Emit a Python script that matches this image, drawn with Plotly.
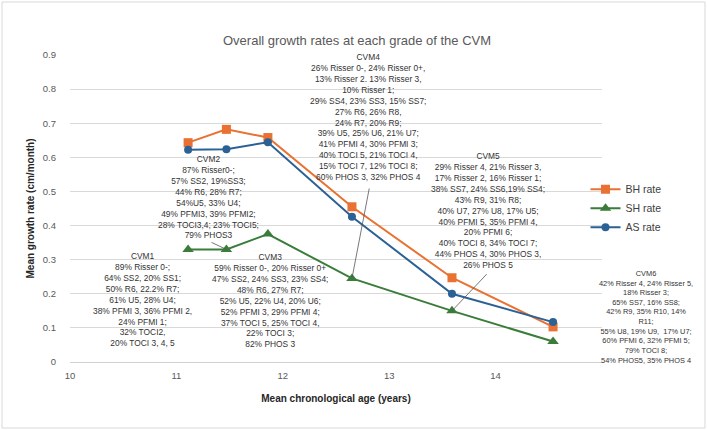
import plotly.graph_objects as go

# ---- data ----
ages = [11.11, 11.47, 11.86, 12.65, 13.59, 14.54]
bh_rate = [0.643, 0.682, 0.658, 0.455, 0.247, 0.103]
sh_rate = [0.330, 0.330, 0.375, 0.245, 0.150, 0.060]
as_rate = [0.622, 0.624, 0.644, 0.426, 0.200, 0.117]
series_names = ["BH rate", "SH rate", "AS rate"]
x_ticks = [10, 11, 12, 13, 14]
y_ticks = [0, 0.1, 0.2, 0.3, 0.4, 0.5, 0.6, 0.7, 0.8, 0.9]

cvm_texts = [
    "CVM1<br>89% Risser 0-;<br>64% SS2, 20% SS1;<br>50% R6, 22.2% R7;<br>61% U5, 28% U4;<br>"
    "38% PFMI 3, 36% PFMI 2,<br>24% PFMI 1;<br>32% TOCI2,<br>20% TOCI 3, 4, 5",
    "CVM2<br>87% Risser0-;<br>57% SS2, 19%SS3;<br>44% R6, 28% R7;<br>54%U5, 33% U4;<br>"
    "49% PFMI3, 39% PFMI2;<br>28% TOCI3,4; 23% TOCI5;<br>79% PHOS3",
    "CVM3<br>59% Risser 0-, 20% Risser 0+<br>47% SS2, 24% SS3, 23% SS4;<br>48% R6, 27% R7;<br>"
    "52% U5, 22% U4, 20% U6;<br>52% PFMI 3, 29% PFMI 4;<br>37% TOCI 5, 25% TOCI 4,<br>22% TOCI 3;<br>82% PHOS 3",
    "CVM4<br>26% Risser 0-, 24% Risser 0+,<br>13% Risser 2. 13% Risser 3,<br>10% Risser 1;<br>"
    "29% SS4, 23% SS3, 15% SS7;<br>27% R6, 26% R8,<br>24% R7, 20% R9;<br>39% U5, 25% U6, 21% U7;<br>"
    "41% PFMI 4, 30% PFMI 3;<br>40% TOCI 5, 21% TOCI 4,<br>15% TOCI 7, 12% TOCI 8;<br>60% PHOS 3, 32% PHOS 4",
    "CVM5<br>29% Risser 4, 21% Risser 3,<br>17% Risser 2, 16% Risser 1;<br>38% SS7, 24% SS6,19% SS4;<br>"
    "43% R9, 31% R8;<br>40% U7, 27% U8, 17% U5;<br>40% PFMI 5, 35% PFMI 4,<br>20% PFMI 6;<br>"
    "40% TOCI 8, 34% TOCI 7;<br>44% PHOS 4, 30% PHOS 3,<br>26% PHOS 5",
    "CVM6<br>42% Risser 4, 24% Risser 5,<br>18% Risser 3;<br>65% SS7, 16% SS8;<br>42% R9, 35% R10, 14%<br>"
    "R11;<br>55% U8, 19% U9,  17% U7;<br>60% PFMI 6, 32% PFMI 5;<br>79% TOCI 8;<br>54% PHOS5, 35% PHOS 4",
]

# ---- styling / placement ----
colors = {"BH rate": "#E97132", "SH rate": "#3A7D3A", "AS rate": "#2B6195"}
symbols = {"BH rate": "square", "SH rate": "triangle-up", "AS rate": "circle"}
msize = {"BH rate": 9, "SH rate": 10, "AS rate": 8}
# (xref, x, y) for each CVM text block
label_pos = [("x", 10.68, 0.1847), ("x", 11.306, 0.4837), ("x", 11.88, 0.1809),
             ("x", 12.80, 0.7168), ("x", 13.93, 0.4427), ("paper", 1.0827, 0.1305)]
label_font = [8.4, 8.4, 8.4, 8.4, 8.4, 7.4]
# leader lines: (index of CVM point on SH series, start x, start y)
leaders = [(1, 11.316, 0.3527), (3, 12.815, 0.513), (4, 13.93, 0.262)]

FONT = "Liberation Sans"
fig = go.Figure()
for name, vals in zip(series_names, [bh_rate, sh_rate, as_rate]):
    fig.add_trace(go.Scatter(
        x=ages, y=vals, name=name, mode="lines+markers",
        line=dict(color=colors[name], width=2),
        marker=dict(symbol=symbols[name], size=msize[name], color=colors[name]),
    ))

annotations = []
for txt, (xr, ax_, ay_), fs in zip(cvm_texts, label_pos, label_font):
    annotations.append(dict(x=ax_, y=ay_, xref=xr, yref="y", text=txt, showarrow=False,
                            xanchor="center", yanchor="middle", align="center",
                            font=dict(family=FONT, size=fs, color="#333333")))
for idx, sx, sy in leaders:
    annotations.append(dict(x=ages[idx], y=sh_rate[idx], xref="x", yref="y", text="",
                            showarrow=True, arrowhead=0, arrowwidth=0.8, arrowcolor="#555555",
                            ax=sx, ay=sy, axref="x", ayref="y", standoff=0, startstandoff=0))

fig.update_layout(
    width=707, height=430,
    margin=dict(l=70, r=105, t=55, b=68),
    paper_bgcolor="white", plot_bgcolor="white",
    font=dict(family=FONT, color="#595959"),
    title=dict(text="Overall growth rates at each grade of the CVM", x=0.505, xref="container",
               y=0.907, yref="container", xanchor="center", yanchor="middle",
               font=dict(family=FONT, size=13, color="#595959")),
    xaxis=dict(range=[10, 15], tickvals=x_ticks, showgrid=False, zeroline=False,
               showline=True, linecolor="#d0d0d0", linewidth=1, ticks="",
               ticklabelstandoff=5,
               tickfont=dict(family=FONT, size=9.5, color="#595959"),
               title=dict(text="<b>Mean chronological age (years)</b>", standoff=14,
                          font=dict(family=FONT, size=10, color="#262626"))),
    yaxis=dict(range=[0, 0.9], tickvals=y_ticks, showgrid=True, gridcolor="#d9d9d9",
               gridwidth=1, zeroline=False, showline=False, ticks="",
               ticklabelstandoff=13,
               tickfont=dict(family=FONT, size=9.5, color="#595959"),
               title=dict(text="<b>Mean growth rate (cm/month)</b>", standoff=6,
                          font=dict(family=FONT, size=10, color="#262626"))),
    legend=dict(x=0.969, y=0.61, xanchor="left", yanchor="top", bgcolor="rgba(0,0,0,0)",
                font=dict(family=FONT, size=10.5, color="#404040"), itemwidth=30,
                tracegroupgap=0),
    annotations=annotations,
    shapes=[dict(type="rect", xref="paper", yref="paper", x0=-0.1278, x1=1.1936,
                 y0=-0.215, y1=1.1726, line=dict(color="#d9d9d9", width=1), layer="below")],
)

fig.write_html("out.html", config={"displayModeBar": False},
               post_script="document.body.style.margin='0';")
